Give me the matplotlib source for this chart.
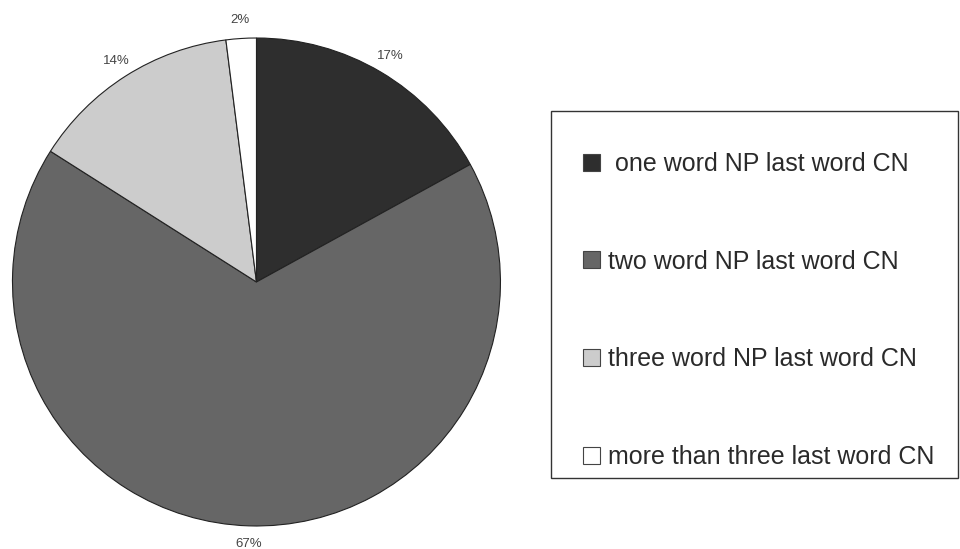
import matplotlib.pyplot as plt
from matplotlib.patches import Rectangle

plt.rcParams['font.family'] = ['Liberation Sans', 'DejaVu Sans']

# Share of compound nouns by NP length
labels = [' one word NP last word CN', 'two word NP last word CN',
          'three word NP last word CN', 'more than three last word CN']
shares = [17, 67, 14, 2]
colors = ['#2e2e2e', '#666666', '#cccccc', '#ffffff']

fig = plt.figure(figsize=(9.6, 5.49), dpi=100)

# Pie axes sized so the circle sits on the left half
ax = fig.add_axes([0.0130, 0.0419, 0.5083, 0.8889])
wedges, texts, autotexts = ax.pie(
    shares, colors=colors, startangle=90, counterclock=False,
    autopct='%d%%', pctdistance=1.075, radius=1.0,
    wedgeprops=dict(edgecolor='#222222', linewidth=0.8))
for t in autotexts:
    t.set_fontsize(9.5)
    t.set_color('#444444')
ax.set_xlim(-1, 1)
ax.set_ylim(-1, 1)
ax.set_aspect('equal')
ax.axis('off')

# Legend box
fig.patches.append(Rectangle((551 / 960, 1 - 478 / 549), 407 / 960, 367 / 549,
                             transform=fig.transFigure, fill=False,
                             edgecolor='#333333', linewidth=1.0))

leg = fig.legend(wedges, labels, loc='upper left',
                 bbox_to_anchor=(583 / 960, 1 - 152 / 549),
                 frameon=False, fontsize=18, handlelength=0.68,
                 handleheight=0.68, handletextpad=0.32, labelspacing=2.945,
                 borderaxespad=0, borderpad=0)
for t in leg.get_texts():
    t.set_color('#2a2a2a')
for h in leg.legend_handles:
    h.set_linewidth(0.8)
    h.set_edgecolor('#444444')

fig.savefig('out.png', dpi=100)
